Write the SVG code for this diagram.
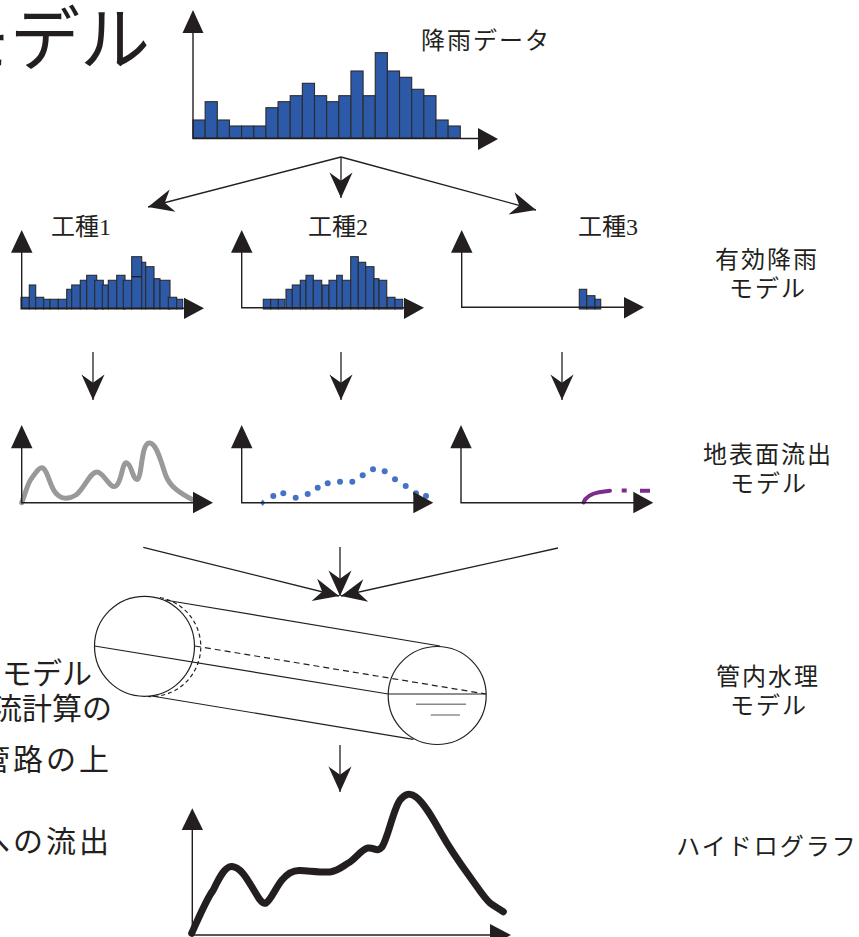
<svg xmlns="http://www.w3.org/2000/svg" width="859" height="937" viewBox="0 0 859 937">
  <style>
    .ax { stroke: #231f20; stroke-width: 1.4; fill: none; }
    .ah { fill: #231f20; stroke: none; }
    .bar { fill: #2c5aa8; stroke: #2b2b2b; stroke-width: 1.1; }
    .con { stroke: #231f20; stroke-width: 1.3; fill: none; }
    .pipe { stroke: #231f20; stroke-width: 1.2; fill: none; }
    .lbl { font-family: "Liberation Serif", "Noto Sans CJK JP", serif; fill: #231f20; }
    .side { font-size: 24px; letter-spacing: 2px; text-anchor: middle; }
    .kind { font-size: 24px; }
    .gothic { font-family: "Noto Sans CJK JP", "Liberation Sans", sans-serif; fill: #231f20; }
    .wide { letter-spacing: 3px; }
  </style>
  <defs>
    <marker id="stealth" markerUnits="userSpaceOnUse" markerWidth="30" markerHeight="30" viewBox="-24 -12 26 24" refX="0" refY="0" orient="auto">
      <path d="M0,0 L-22,-10 L-15,0 L-22,10 Z" fill="#231f20"/>
    </marker>
  </defs>

  <rect width="859" height="937" fill="#ffffff"/>

  <!-- heading, partially outside the left edge -->
  <g id="title">
    <text class="gothic" x="150" y="65" font-size="70" text-anchor="end">モデル</text>
  </g>

  <!-- explanatory text at the left edge -->
  <g id="side-notes" class="gothic" font-size="30" text-anchor="end">
    <text x="92" y="684">モデル</text>
    <text x="112" y="719">流計算の</text>
    <text class="wide" x="112" y="770">管路の上</text>
    <text class="wide" x="112" y="852">への流出</text>
  </g>

  <!-- rainfall data -->
  <g id="rain-data">
    <g class="bars">
      <rect class="bar" x="193" y="120" width="12.15" height="18"/>
      <rect class="bar" x="205.15" y="101.7" width="12.15" height="36.3"/>
      <rect class="bar" x="217.3" y="120" width="12.15" height="18"/>
      <rect class="bar" x="229.45" y="126" width="12.15" height="12"/>
      <rect class="bar" x="241.6" y="126" width="12.15" height="12"/>
      <rect class="bar" x="253.75" y="126" width="12.15" height="12"/>
      <rect class="bar" x="265.9" y="107.7" width="12.15" height="30.3"/>
      <rect class="bar" x="278.05" y="101.7" width="12.15" height="36.3"/>
      <rect class="bar" x="290.2" y="95.7" width="12.15" height="42.3"/>
      <rect class="bar" x="302.35" y="83.3" width="12.15" height="54.7"/>
      <rect class="bar" x="314.5" y="95.7" width="12.15" height="42.3"/>
      <rect class="bar" x="326.65" y="101.7" width="12.15" height="36.3"/>
      <rect class="bar" x="338.8" y="95.7" width="12.15" height="42.3"/>
      <rect class="bar" x="350.95" y="71" width="12.15" height="67"/>
      <rect class="bar" x="363.1" y="95.7" width="12.15" height="42.3"/>
      <rect class="bar" x="375.25" y="52.7" width="12.15" height="85.3"/>
      <rect class="bar" x="387.4" y="71" width="12.15" height="67"/>
      <rect class="bar" x="399.55" y="77.3" width="12.15" height="60.7"/>
      <rect class="bar" x="411.7" y="89.3" width="12.15" height="48.7"/>
      <rect class="bar" x="423.85" y="95.7" width="12.15" height="42.3"/>
      <rect class="bar" x="436" y="120" width="12.15" height="18"/>
      <rect class="bar" x="448.15" y="126" width="12.15" height="12"/>
    </g>
    <path class="ax" d="M193,30 V138.5 H480"/>
    <path class="ah" d="M193,10 L182.5,33 L203.5,33 Z"/>
    <path class="ah" d="M498,139 L478,128 L478,150 Z"/>
    <text class="lbl side" x="486" y="49">降雨データ</text>
  </g>

  <!-- effective rainfall, work type 1 -->
  <g id="effective-1">
    <text class="lbl kind" x="51" y="235">工種1</text>
    <g>
      <rect class="bar" x="21" y="297.3" width="8.3" height="11.7"/>
      <rect class="bar" x="29.3" y="285" width="6.4" height="24"/>
      <rect class="bar" x="35.7" y="297.3" width="8" height="11.7"/>
      <rect class="bar" x="43.7" y="299.3" width="6.3" height="9.7"/>
      <rect class="bar" x="50" y="299.3" width="8.3" height="9.7"/>
      <rect class="bar" x="58.3" y="299.3" width="8.4" height="9.7"/>
      <rect class="bar" x="66.7" y="289.3" width="5" height="19.7"/>
      <rect class="bar" x="71.7" y="285" width="8.6" height="24"/>
      <rect class="bar" x="80.3" y="280.3" width="6.4" height="28.7"/>
      <rect class="bar" x="86.7" y="275.3" width="10" height="33.7"/>
      <rect class="bar" x="94.7" y="280.3" width="8.6" height="28.7"/>
      <rect class="bar" x="102.3" y="285" width="6" height="24"/>
      <rect class="bar" x="108.3" y="280.3" width="8.4" height="28.7"/>
      <rect class="bar" x="116.7" y="275.3" width="8.3" height="33.7"/>
      <rect class="bar" x="123.3" y="280.3" width="8.4" height="28.7"/>
      <rect class="bar" x="131.7" y="256.7" width="10" height="52.3"/>
      <line class="ax" x1="131.7" y1="276.7" x2="141.7" y2="276.7" stroke-width="1"/>
      <rect class="bar" x="141.7" y="262.3" width="4" height="46.7"/>
      <rect class="bar" x="145.7" y="266.7" width="8.3" height="42.3"/>
      <rect class="bar" x="154" y="278.7" width="6" height="30.3"/>
      <rect class="bar" x="160" y="280.3" width="10" height="28.7"/>
      <rect class="bar" x="168.3" y="297.3" width="8.4" height="11.7"/>
      <rect class="bar" x="176.7" y="299.3" width="6" height="9.7"/>
    </g>
    <path class="ax" d="M21.7,250 V308.3 H186"/>
    <path class="ah" d="M21.7,230 L11,252.7 L32.5,252.7 Z"/>
    <path class="ah" d="M204,308.3 L184,297.7 L184,319 Z"/>
  </g>

  <!-- effective rainfall, work type 2 -->
  <g id="effective-2">
    <text class="lbl kind" x="308" y="235">工種2</text>
    <g>
      <rect class="bar" x="263.3" y="299.3" width="7.4" height="9.7"/>
      <rect class="bar" x="270.7" y="299.3" width="7.6" height="9.7"/>
      <rect class="bar" x="278.3" y="299.3" width="6.7" height="9.7"/>
      <rect class="bar" x="286" y="289.3" width="6.3" height="19.7"/>
      <rect class="bar" x="292.3" y="285" width="8" height="24"/>
      <rect class="bar" x="300.3" y="280.3" width="5.7" height="28.7"/>
      <rect class="bar" x="306" y="275.3" width="7.3" height="33.7"/>
      <rect class="bar" x="313.3" y="280.3" width="8.4" height="28.7"/>
      <rect class="bar" x="322.3" y="285" width="6.7" height="24"/>
      <rect class="bar" x="329" y="280.3" width="7.7" height="28.7"/>
      <rect class="bar" x="336.7" y="275.3" width="5.6" height="33.7"/>
      <rect class="bar" x="342.3" y="280.3" width="8.4" height="28.7"/>
      <rect class="bar" x="350.7" y="256.7" width="7.6" height="52.3"/>
      <rect class="bar" x="358.3" y="262.3" width="7.4" height="46.7"/>
      <rect class="bar" x="365.7" y="266.7" width="8.3" height="42.3"/>
      <rect class="bar" x="374" y="278.7" width="5" height="30.3"/>
      <rect class="bar" x="379" y="280.3" width="7.7" height="28.7"/>
      <rect class="bar" x="387.3" y="297.3" width="7.7" height="11.7"/>
      <rect class="bar" x="395" y="299.3" width="7.7" height="9.7"/>
    </g>
    <path class="ax" d="M241.7,250 V307.7 H406"/>
    <path class="ah" d="M241.7,230 L231,252.7 L252.5,252.7 Z"/>
    <path class="ah" d="M424,307.7 L404,297.7 L404,319 Z"/>
  </g>

  <!-- effective rainfall, work type 3 -->
  <g id="effective-3">
    <text class="lbl kind" x="578" y="235">工種3</text>
    <g>
      <rect class="bar" x="579.3" y="289.3" width="7.4" height="19.7"/>
      <rect class="bar" x="586.7" y="295.7" width="8.3" height="13.3"/>
      <rect class="bar" x="595" y="299.3" width="5.7" height="9.7"/>
    </g>
    <path class="ax" d="M461.7,250 V307.3 H626"/>
    <path class="ah" d="M461.7,230 L451,252.7 L472.5,252.7 Z"/>
    <path class="ah" d="M644,307.3 L624,297 L624,318.5 Z"/>
  </g>

  <!-- surface runoff, work type 1 -->
  <g id="runoff-1">
    <path d="M21.7,502.7 C26,492 28,482 31.7,478.3 C36,472 40,466 43.3,468.3 C48,472 50,486 55,492 C60,499 68,500 76,495 C84,489 90,472 97,472 C104,472 110,490 116,486 C122,482 122,461 127,463 C132,465 133,482 138,479 C142,476 141,444 149,443 C157,442 162,466 166,476 C170,486 178,492 191.7,499.3" fill="none" stroke="#999999" stroke-width="5" stroke-linecap="round" stroke-linejoin="round"/>
    <path class="ax" d="M21.7,446 V502.7 H195"/>
    <path class="ah" d="M21.7,425 L11,448.3 L32.5,448.3 Z"/>
    <path class="ah" d="M213,502.7 L193,491.7 L193,513.3 Z"/>
  </g>

  <!-- surface runoff, work type 2 -->
  <g id="runoff-2">
    <g fill="#4472c4">
      <path d="M262.7,499.5 L265.2,502.7 L262.7,505.9 L260.2,502.7 Z"/>
      <circle cx="273.3" cy="496" r="3"/>
      <circle cx="283.3" cy="493.3" r="3"/>
      <circle cx="295.7" cy="497.7" r="3"/>
      <circle cx="307.7" cy="494" r="3"/>
      <circle cx="317.7" cy="487.7" r="3"/>
      <circle cx="327.7" cy="483.3" r="3"/>
      <circle cx="340" cy="481.7" r="3"/>
      <circle cx="352.3" cy="481.7" r="3"/>
      <circle cx="362.7" cy="475.3" r="3"/>
      <circle cx="373" cy="469.3" r="3"/>
      <circle cx="384.7" cy="471.3" r="3"/>
      <circle cx="395" cy="479.3" r="3"/>
      <circle cx="405.7" cy="486" r="3"/>
      <circle cx="416" cy="493.3" r="3"/>
      <circle cx="426" cy="496" r="3"/>
    </g>
    <path class="ax" d="M241.7,446 V502.7 H415"/>
    <path class="ah" d="M241.7,425 L231,448.3 L252.5,448.3 Z"/>
    <path class="ah" d="M433.3,502.7 L413.3,491.7 L413.3,513.3 Z"/>
  </g>

  <!-- surface runoff, work type 3 -->
  <g id="runoff-3">
    <path d="M583.5,502.5 C586,496 592,493.5 599,492.2 C603,491.5 607,491 610,490.7" fill="none" stroke="#7b2c8c" stroke-width="4" stroke-linecap="round"/>
    <path d="M621.7,490.5 H626.7 M640,490.7 H650" fill="none" stroke="#7b2c8c" stroke-width="4"/>
    <path class="ax" d="M461,446 V502.7 H635"/>
    <path class="ah" d="M461,425 L450.3,448.3 L471.7,448.3 Z"/>
    <path class="ah" d="M653.3,502.7 L633.3,491.7 L633.3,513.3 Z"/>
  </g>

  <!-- pipe hydraulics -->
  <g id="pipe">
    <circle class="pipe" cx="144.5" cy="646.3" r="50"/>
    <path class="pipe" d="M160,597.5 A50,50 0 0 1 147,696.5" stroke-dasharray="4,3"/>
    <line class="pipe" x1="165" y1="600" x2="440" y2="646"/>
    <line class="pipe" x1="151.7" y1="696" x2="413.3" y2="739.3"/>
    <line class="pipe" x1="94.5" y1="646" x2="388.3" y2="694"/>
    <line class="pipe" x1="195" y1="646" x2="486" y2="694" stroke-dasharray="6,4"/>
    <circle class="pipe" cx="437.2" cy="695.5" r="49"/>
    <line class="pipe" x1="388.3" y1="694" x2="486" y2="694"/>
    <line x1="416" y1="704.3" x2="466" y2="704.3" stroke="#888888" stroke-width="1.4"/>
    <line x1="430.7" y1="715" x2="460" y2="715" stroke="#888888" stroke-width="1.4"/>
  </g>

  <!-- hydrograph -->
  <g id="hydrograph">
    <path d="M191.7,933.3 C200,915 207,898 213.3,890 C219,878 225,866 232,866.5 C240,867 246,877 252,887 C258,897 262,905 266,903 C271,900 276,887 282,880 C287,874 292,870 300,870.5 C310,871 322,872.5 330,872 C338,871 343,866 350,862 C357,857 362,849 368,848 C374,847 377,853 382,847 C388,838 393,810 400,800 C405,794 410,792 416,797 C424,803 432,817 441,833 C450,849 462,866 470,877 C478,888 485,899 490,903 C495,907 500,909 503.3,911.7" fill="none" stroke="#231f20" stroke-width="7" stroke-linecap="round" stroke-linejoin="round"/>
    <path class="ax" d="M192.3,828 V935 H492"/>
    <path class="ah" d="M192.3,808.3 L181.7,830 L203,830 Z"/>
    <path class="ah" d="M511,935 L490,924 L490,946 Z"/>
  </g>

  <!-- row labels -->
  <g id="label-effective">
    <text class="lbl side" x="767" y="268">有効降雨</text>
    <text class="lbl side" x="768" y="297">モデル</text>
  </g>
  <g id="label-runoff">
    <text class="lbl side" x="768" y="463">地表面流出</text>
    <text class="lbl side" x="769" y="492">モデル</text>
  </g>
  <g id="label-pipe">
    <text class="lbl side" x="768" y="685">管内水理</text>
    <text class="lbl side" x="769" y="714">モデル</text>
  </g>
  <g id="label-hydrograph">
    <text class="lbl side" x="767" y="855">ハイドログラフ</text>
  </g>

  <!-- connectors -->
  <g id="connectors" class="con">
    <line x1="341" y1="157" x2="148" y2="207" marker-end="url(#stealth)"/>
    <line x1="341" y1="157" x2="341" y2="198" marker-end="url(#stealth)"/>
    <line x1="341" y1="157" x2="536" y2="210" marker-end="url(#stealth)"/>
    <line x1="93" y1="352" x2="93" y2="400" marker-end="url(#stealth)"/>
    <line x1="341" y1="352" x2="341" y2="400" marker-end="url(#stealth)"/>
    <line x1="562" y1="352" x2="562" y2="400" marker-end="url(#stealth)"/>
    <line x1="143.3" y1="547.3" x2="339" y2="596" marker-end="url(#stealth)"/>
    <line x1="340" y1="547" x2="340" y2="596" marker-end="url(#stealth)"/>
    <line x1="558" y1="548" x2="341" y2="596" marker-end="url(#stealth)"/>
    <line x1="340" y1="745" x2="340" y2="792" marker-end="url(#stealth)"/>
  </g>
</svg>
